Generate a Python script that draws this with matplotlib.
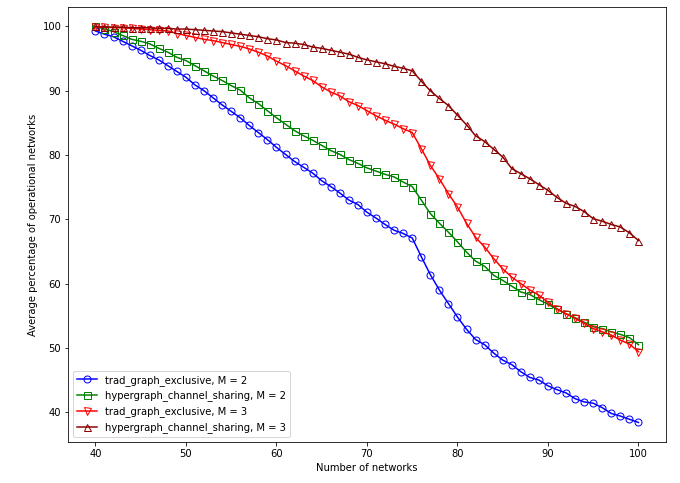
import matplotlib
matplotlib.use("Agg")
import matplotlib.pyplot as plt
import numpy as np

# number of networks on the x axis
num_networks = np.arange(40, 101)

trad_m2 = [99.3, 98.8, 98.4, 97.7, 97.0, 96.3, 95.5, 94.8, 93.9, 93.0,
           92.1, 90.9, 90.0, 88.9, 87.8, 86.8, 85.8, 84.6, 83.5, 82.4,
           81.2, 80.1, 79.0, 78.1, 77.2, 76.0, 75.1, 74.1, 73.0, 72.3,
           71.1, 70.2, 69.2, 68.3, 67.8, 67.1, 64.2, 61.4, 59.0, 56.9,
           54.8, 52.9, 51.3, 50.5, 49.2, 48.1, 47.4, 46.3, 45.4, 45.0,
           44.1, 43.5, 43.0, 42.1, 41.6, 41.4, 40.7, 39.8, 39.4, 38.9, 38.4]

hyper_m2 = [100.0, 99.6, 99.2, 98.6, 98.0, 97.7, 97.3, 96.6, 96.0, 95.2,
            94.7, 93.9, 93.1, 92.3, 91.6, 90.8, 90.1, 88.9, 88.0, 86.9,
            85.8, 84.8, 83.8, 83.0, 82.3, 81.5, 80.7, 80.1, 79.3, 78.7,
            78.0, 77.5, 77.0, 76.6, 75.8, 75.1, 73.0, 70.9, 69.4, 68.0,
            66.5, 64.9, 63.5, 62.7, 61.3, 60.5, 59.6, 58.7, 58.3, 57.5,
            56.8, 56.0, 55.3, 54.7, 54.0, 53.3, 53.0, 52.5, 52.1, 51.6, 50.5]

trad_m3 = [99.9, 99.9, 99.8, 99.8, 99.7, 99.6, 99.5, 99.4, 99.3, 98.9,
           98.6, 98.3, 98.0, 97.8, 97.5, 97.2, 96.9, 96.5, 96.0, 95.4,
           94.6, 93.9, 93.1, 92.3, 91.6, 90.6, 89.8, 89.2, 88.3, 87.7,
           86.9, 86.1, 85.4, 84.8, 84.1, 83.5, 81.0, 78.4, 76.3, 74.0,
           71.9, 69.4, 67.2, 65.7, 63.9, 62.3, 61.0, 60.0, 59.0, 58.2,
           57.1, 56.1, 55.3, 54.6, 53.8, 53.0, 52.5, 52.0, 51.2, 50.6, 49.4]

hyper_m3 = [100.0, 99.9, 99.9, 99.9, 99.8, 99.8, 99.8, 99.7, 99.7, 99.6,
            99.6, 99.5, 99.4, 99.3, 99.2, 99.0, 98.8, 98.6, 98.4, 98.1,
            97.9, 97.5, 97.4, 97.2, 96.8, 96.6, 96.3, 96.0, 95.7, 95.2,
            94.8, 94.5, 94.2, 93.8, 93.5, 93.1, 91.5, 90.0, 88.8, 87.7,
            86.2, 84.7, 83.0, 82.1, 80.9, 79.7, 77.9, 77.1, 76.3, 75.4,
            74.5, 73.4, 72.5, 72.0, 71.2, 70.1, 69.7, 69.2, 68.8, 67.9, 66.7]

series = [
    (trad_m2, "b", "o", "trad_graph_exclusive, M = 2"),
    (hyper_m2, "g", "s", "hypergraph_channel_sharing, M = 2"),
    (trad_m3, "r", "v", "trad_graph_exclusive, M = 3"),
    (hyper_m3, "darkred", "^", "hypergraph_channel_sharing, M = 3"),
]

fig = plt.figure(figsize=(680 / 72, 483 / 72), dpi=72)
ax = fig.add_axes([0.1004, 0.0843, 0.8785, 0.9019])

for values, color, marker, label in series:
    ax.plot(num_networks, values, color=color, marker=marker, markersize=7,
            markerfacecolor="none", label=label)

ax.set_xlabel("Number of networks")
ax.set_ylabel("Average percentage of operational networks")
ax.legend(loc="lower left")

fig.savefig("out.png", dpi=72)
